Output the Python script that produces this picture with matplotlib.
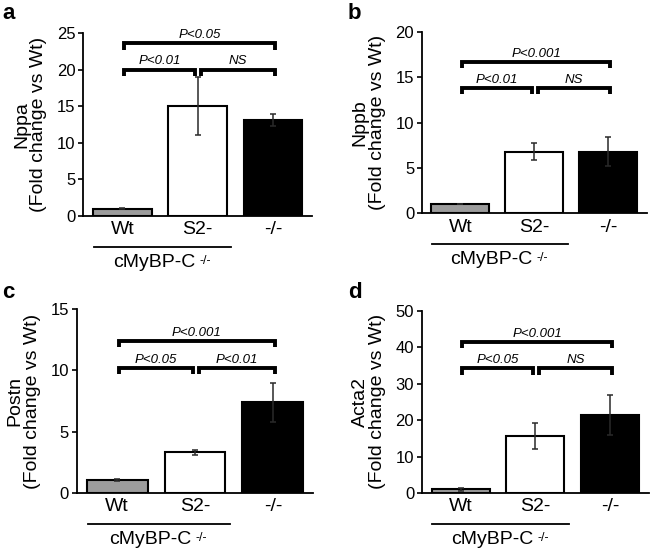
import matplotlib
matplotlib.use("Agg")
import matplotlib.pyplot as plt
import matplotlib.transforms as mtransforms

plt.rcParams.update({
    "font.family": "Liberation Sans",
    "axes.linewidth": 1.3,
})

GROUPS = ["Wt", "S2-", "-/-"]
BAR_COLORS = ["#9c9c9c", "white", "black"]

GENES = ["Nppa", "Nppb", "Postn", "Acta2"]
PANEL_LETTERS = ["a", "b", "c", "d"]
YMAX = [25, 20, 15, 50]
YSTEP = [5, 5, 5, 10]

MEANS = {
    "Nppa": [1.0, 15.0, 13.1],
    "Nppb": [1.0, 6.8, 6.8],
    "Postn": [1.05, 3.3, 7.4],
    "Acta2": [1.0, 15.6, 21.5],
}
ERRS = {
    "Nppa": [0.12, 4.0, 0.8],
    "Nppb": [0.05, 0.9, 1.6],
    "Postn": [0.08, 0.17, 1.6],
    "Acta2": [0.35, 3.5, 5.5],
}
# (left pair, right pair, wt vs -/-) labels
P_LABELS = {
    "Nppa": ["P<0.01", "NS", "P<0.05"],
    "Nppb": ["P<0.01", "NS", "P<0.001"],
    "Postn": ["P<0.05", "P<0.01", "P<0.001"],
    "Acta2": ["P<0.05", "NS", "P<0.001"],
}
BRACKET_Y = {
    "Nppa": [20.0, 20.0, 23.6],
    "Nppb": [13.8, 13.8, 16.7],
    "Postn": [10.2, 10.2, 12.4],
    "Acta2": [34.2, 34.2, 41.5],
}

# axes rectangles in figure fractions
RECTS = [
    [0.128, 0.609, 0.352, 0.331],
    [0.649, 0.614, 0.346, 0.328],
    [0.118, 0.107, 0.364, 0.333],
    [0.649, 0.107, 0.349, 0.330],
]
BRACKET_X = [(0.02, 0.97), (1.05, 2.03), (0.02, 2.03)]

fig = plt.figure(figsize=(6.5, 5.52), dpi=100)

for i, gene in enumerate(GENES):
    ax = fig.add_axes(RECTS[i])
    xs = range(len(GROUPS))
    ax.bar(xs, MEANS[gene], width=0.78, color=BAR_COLORS, edgecolor="black",
           linewidth=1.5, zorder=2)
    ax.errorbar(xs, MEANS[gene], yerr=ERRS[gene], fmt="none", ecolor="#2a2a2a",
                elinewidth=1.1, capsize=2.5, capthick=1.1, zorder=3)

    ymax = YMAX[i]
    ax.set_ylim(0, ymax)
    ax.set_yticks(range(0, ymax + 1, YSTEP[i]))
    ax.set_xlim(-0.52, 2.52)
    ax.set_xticks(list(xs))
    ax.set_xticklabels(GROUPS, fontsize=14)
    ax.tick_params(axis="x", length=0, pad=4)
    ax.tick_params(axis="y", length=3.5, width=1.2, pad=2, labelsize=12)
    ax.spines["top"].set_visible(False)
    ax.spines["right"].set_visible(False)
    ax.set_ylabel(f"{gene}\n(Fold change vs Wt)", fontsize=14, linespacing=1.0,
                  labelpad=7)

    # significance brackets
    tick = ymax * 0.035
    for (x1, x2), y, lab in zip(BRACKET_X, BRACKET_Y[gene], P_LABELS[gene]):
        ax.plot([x1, x1, x2, x2], [y - tick, y, y, y - tick], color="black",
                lw=2.8, solid_capstyle="butt", solid_joinstyle="miter",
                clip_on=False, zorder=4)
        ax.text((x1 + x2) / 2, y + ymax * 0.012, lab, ha="center", va="bottom",
                fontsize=9.5, style="italic")

    # genotype grouping under Wt and S2-
    trans = mtransforms.blended_transform_factory(ax.transData, ax.transAxes)
    ax.plot([-0.38, 1.45], [-0.17, -0.17], color="black", lw=1.3,
            transform=trans, clip_on=False)
    main = ax.text(0.42, -0.255, "cMyBP-C", transform=trans,
                   ha="center", va="center", fontsize=14)
    ax.annotate("-/-", xy=(1, 0.95), xycoords=main, xytext=(3, 0),
                textcoords="offset points", ha="left", va="top", fontsize=9)

    # panel letter
    lx = 0.003 if i % 2 == 0 else 0.535
    ly = 0.995 if i < 2 else 0.49
    fig.text(lx, ly, PANEL_LETTERS[i], fontsize=16, fontweight="bold",
             ha="left", va="top")

fig.savefig("out.png", dpi=100)
